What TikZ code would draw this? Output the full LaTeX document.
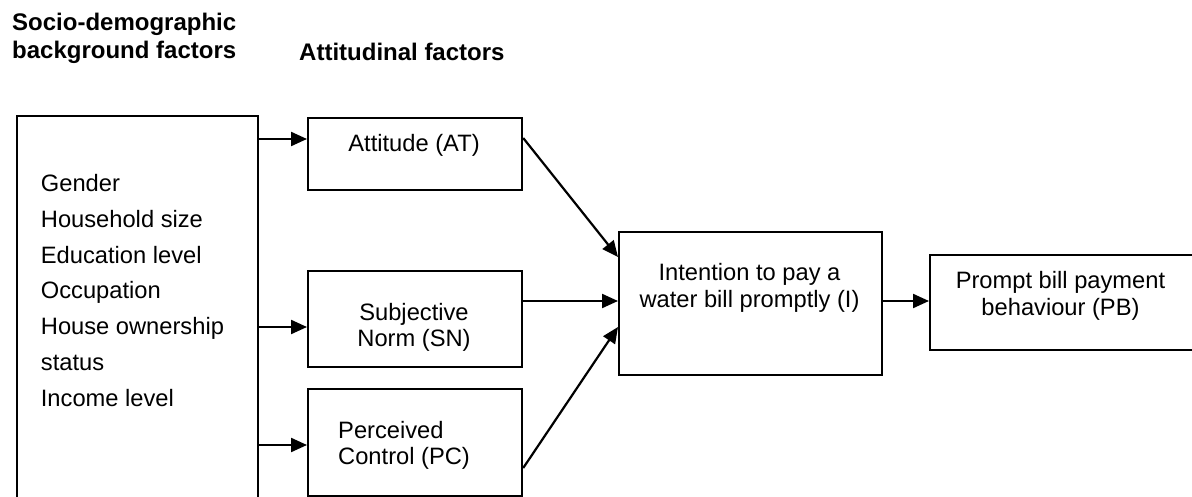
\documentclass[tikz,border=0pt]{standalone}
\usepackage{fontspec}
\setmainfont{Liberation Sans}
\usetikzlibrary{arrows.meta}
\begin{document}
\begin{tikzpicture}[x=1pt,y=-1pt,
  box/.style={draw=black, line width=2.2pt, rectangle, inner sep=0pt, anchor=north west},
  txt/.style={inner sep=0pt, font=\fontsize{23.7}{26.5}\selectfont, align=center},
  listtxt/.style={inner sep=0pt, font=\fontsize{23.7}{35.8}\selectfont, align=left, anchor=west},
  head/.style={inner sep=0pt, font=\fontsize{24}{28}\selectfont\bfseries, align=left, anchor=west},
  arr/.style={line width=2.2pt, -{Triangle[length=16pt,width=14pt]}}]
\useasboundingbox (0,0) rectangle (1192,497);
\clip (0,0) rectangle (1192,497);
\fill[white] (0,0) rectangle (1192,497);
% headings
\node[head] (h1) at (12,38) {Socio-demographic\\background factors};
\node[head] (h2) at (299,52) {Attitudinal factors};
% boxes
\node[box, minimum width=241pt, minimum height=400pt] (SD) at (16,115) {};
\node[box, minimum width=214pt, minimum height=72pt] (AT) at (307,117) {};
\node[box, minimum width=214pt, minimum height=96pt] (SN) at (307,270) {};
\node[box, minimum width=214pt, minimum height=107pt] (PC) at (307,388) {};
\node[box, minimum width=263pt, minimum height=143pt] (I) at (618,231) {};
\node[box, minimum width=290pt, minimum height=95pt] (PB) at (929,254) {};
% texts
\node[listtxt] (SDt) at (40.7,290.5) {Gender\\Household size\\Education level\\Occupation\\House ownership\\status\\Income level};
\node[txt] (ATt) at (414,145) {Attitude (AT)};
\node[txt] (SNt) at (414,327.5) {Subjective\\Norm (SN)};
\node[txt, align=left, anchor=west] (PCt) at (338,445.5) {Perceived\\Control (PC)};
\node[txt] (It) at (749.5,288) {Intention to pay a\\water bill promptly (I)};
\node[txt] (PBt) at (1060.5,296) {Prompt bill payment\\behaviour (PB)};
% connectors
\draw[arr] (SD.east |- 0,139) -- (AT.west |- 0,139);
\draw[arr] (SD.east |- 0,327) -- (SN.west |- 0,327);
\draw[arr] (SD.east |- 0,445) -- (PC.west |- 0,445);
\draw[arr] (AT.east |- 0,138) -- (I.west |- 0,257);
\draw[arr] (SN.east |- 0,301) -- (I.west |- 0,301);
\draw[arr] (PC.east |- 0,468) -- (I.west |- 0,327);
\draw[arr] (I.east |- 0,301) -- (PB.west |- 0,301);
\end{tikzpicture}
\end{document}
